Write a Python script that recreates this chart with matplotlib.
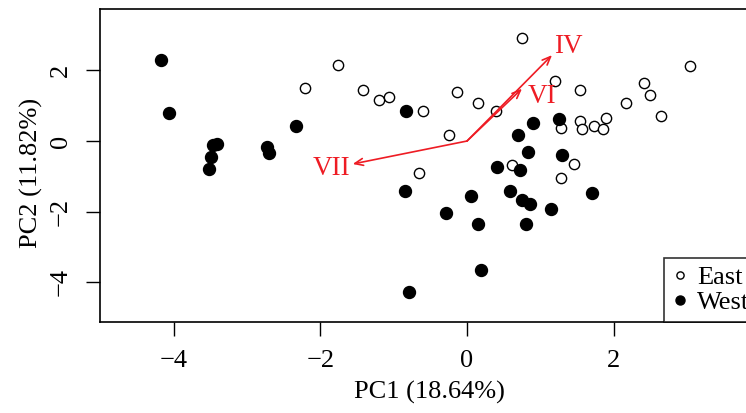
import matplotlib.pyplot as plt
from matplotlib.lines import Line2D

plt.rcParams['font.family'] = ['Liberation Serif', 'DejaVu Serif']

# PCA scores
east_x = [-1.76, -2.21, -1.42, -1.20, -1.06, -0.60, -0.65,
          0.75, 1.20, -0.13, 0.15, 0.40, -0.25, 1.54, 3.04, 2.41, 2.50,
          2.17, 2.64, 1.54, 1.57, 1.28, 1.73, 1.90, 1.86, 0.61, 1.46, 1.28]
east_y = [2.16, 1.49, 1.45, 1.15, 1.25, 0.85, -0.91,
          2.91, 1.70, 1.39, 1.07, 0.85, 0.17, 1.44, 2.13, 1.65, 1.29,
          1.07, 0.72, 0.56, 0.35, 0.37, 0.43, 0.64, 0.35, -0.67, -0.64, -1.04]
west_x = [-4.18, -4.07, -3.41, -3.47, -3.49, -3.52, -2.73, -2.70, -2.33,
          -0.83, -0.85, -0.79,
          0.90, 1.26, 0.69, 0.83, 1.29, 0.41, 0.72, 0.05, 0.59, 0.75, 0.86,
          1.14, 1.71, -0.28, 0.15, 0.80, 0.19]
west_y = [2.30, 0.78, -0.08, -0.12, -0.45, -0.78, -0.18, -0.34, 0.42,
          0.84, -1.41, -4.28,
          0.50, 0.63, 0.17, -0.32, -0.39, -0.74, -0.83, -1.55, -1.42, -1.67, -1.79,
          -1.92, -1.47, -2.04, -2.35, -2.34, -3.64]

# loading vectors
load_names = ['IV', 'VI', 'VII']
load_x = [1.16, 0.75, -1.56]
load_y = [2.43, 1.48, -0.65]
label_x = [1.38, 1.02, -1.85]
label_y = [2.67, 1.25, -0.77]

W, H = 746, 413
fig = plt.figure(figsize=(W / 100, H / 100), dpi=100)
ax = fig.add_axes([100 / W, (H - 321.7) / H, (758 - 100) / W, (321.7 - 9) / H])

ax.plot(east_x, east_y, 'o', ms=7.4, mfc='white', mec='black', mew=1.0, ls='none')
ax.plot(west_x, west_y, 'o', ms=8.6, mfc='black', mec='black', ls='none')

for name, x, y, lx, ly in zip(load_names, load_x, load_y, label_x, label_y):
    ax.annotate('', xy=(x, y), xytext=(0, 0),
                arrowprops=dict(arrowstyle='->,head_length=0.6,head_width=0.25',
                                color='#ee1c24', lw=1.2, shrinkA=0, shrinkB=0))
    ax.text(lx, ly, name, color='#ee1c24', fontsize=19.5, ha='center', va='center')

ax.set_xlim(-5.007, 3.97)
ax.set_ylim(-5.11, 3.734)
ax.set_xticks([-4, -2, 0, 2])
ax.set_yticks([-4, -2, 0, 2])
ax.tick_params(labelsize=19, length=10, width=1, direction='out', pad=10.5)
for lab in ax.get_yticklabels():
    lab.set_rotation(90)
    lab.set_va('center')
for s in ax.spines.values():
    s.set_linewidth(1.2)

ax.set_xlabel('PC1 (18.64%)', fontsize=19, labelpad=6)
ax.set_ylabel('PC2 (11.82%)', fontsize=19)
ax.yaxis.set_label_coords(-0.087, 0.475)

handles = [Line2D([], [], marker='o', ls='none', ms=5.2, mfc='white', mec='black', mew=1.0),
           Line2D([], [], marker='o', ls='none', ms=6.5, mfc='black', mec='black')]
leg = fig.legend(handles, ['East', 'West'], loc='lower left',
                 bbox_to_anchor=(664 / W, (H - 321.7) / H), fontsize=19,
                 frameon=True, fancybox=False, edgecolor='black', borderaxespad=0,
                 handlelength=0.6, handletextpad=0.35, borderpad=0.3, labelspacing=0.05)
leg.get_frame().set_linewidth(1.2)

fig.savefig('out.png', dpi=100)
